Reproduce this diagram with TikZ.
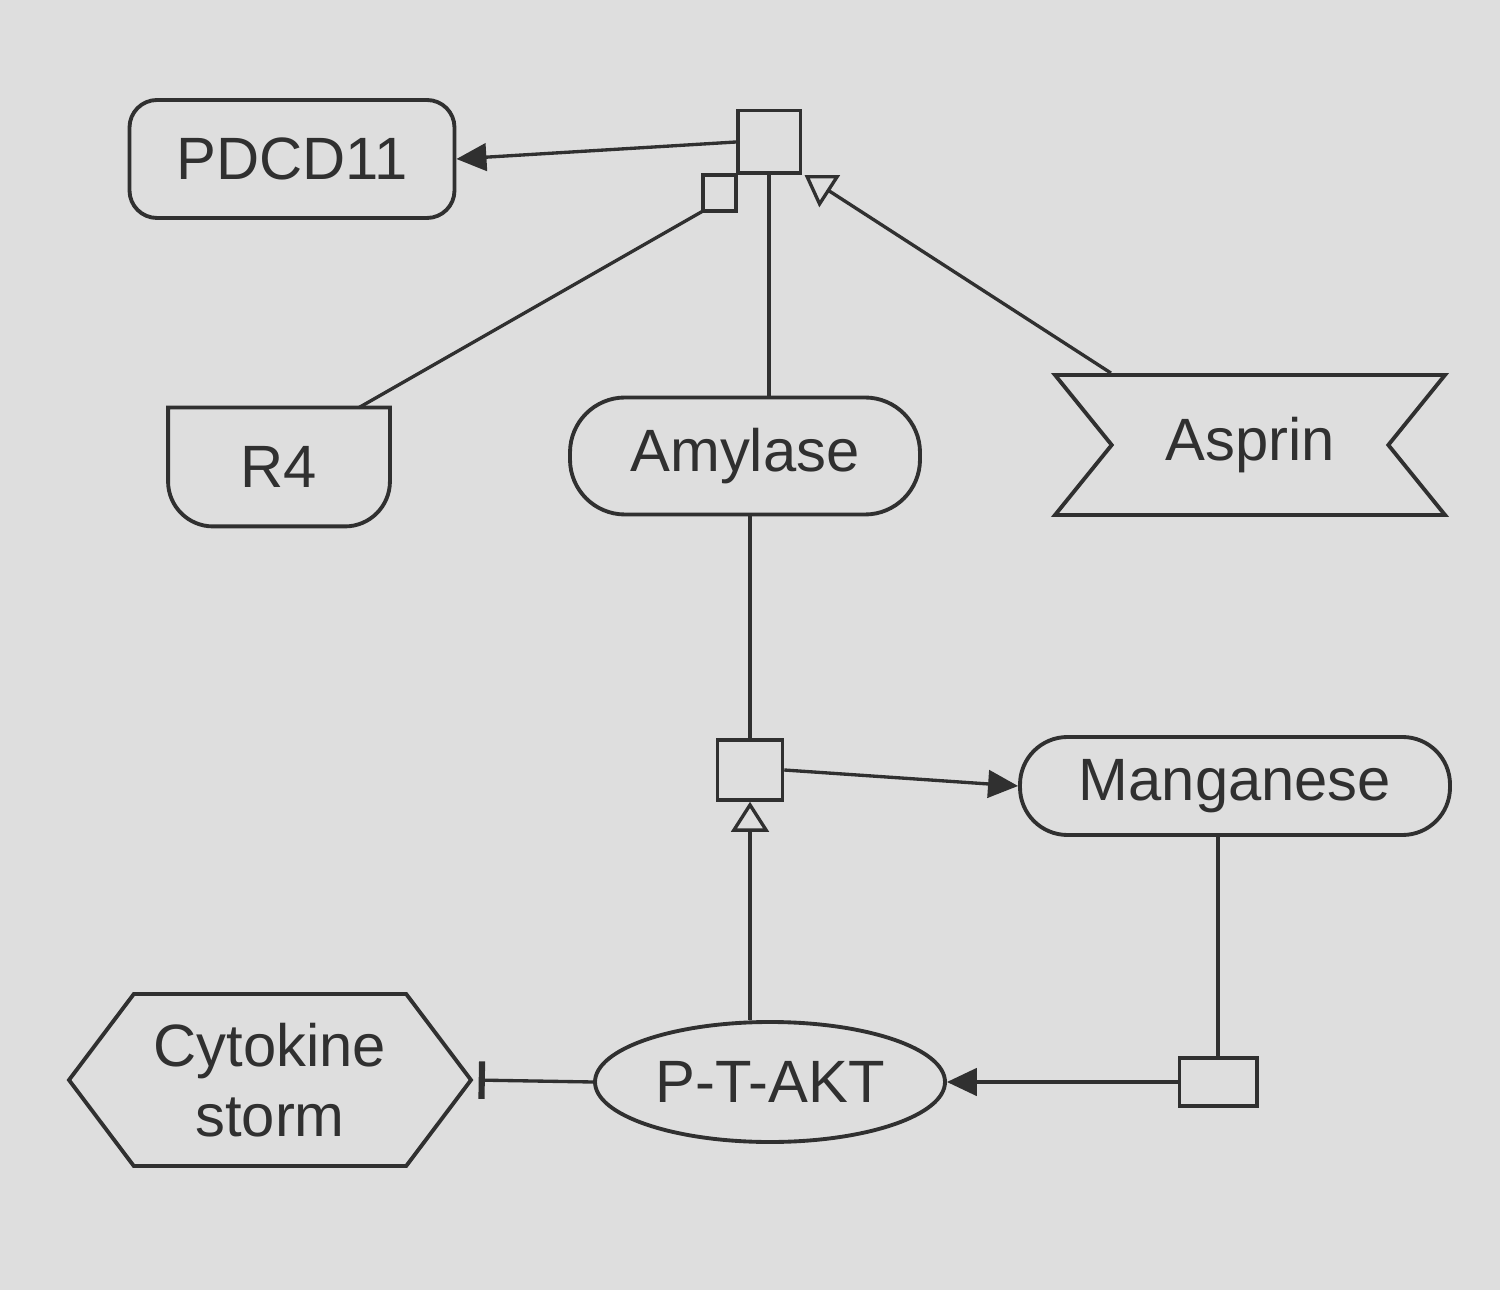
\documentclass[tikz,border=0pt]{standalone}
\usepackage{fontspec}
\setmainfont{Liberation Sans}
\usetikzlibrary{shapes,shapes.symbols,calc,arrows.meta,positioning}
\definecolor{paper}{RGB}{222,222,222}
\definecolor{pencil}{RGB}{48,48,48}

\tikzset{
  entity/.style={draw=pencil, line width=2.2pt, text=pencil, font=\fontsize{34}{40}\selectfont, align=center, inner sep=2pt},
  macro/.style={entity, rectangle, rounded corners=0.55cm},
  chem/.style={entity, rectangle, rounded corners=1.1cm},
  pheno/.style={entity, signal, signal to=west and east, signal pointer angle=106},
  drug/.style={entity, signal, signal to=nowhere, signal from=west and east, signal pointer angle=102},
  procbox/.style={draw=pencil, line width=2pt, rectangle, inner sep=0pt},
  link/.style={draw=pencil, line width=1.9pt},
  produce/.style={link, -{Triangle[length=0.6cm,width=0.55cm]}},
  stim/.style={link, -{Triangle[open,length=0.6cm,width=0.75cm,line width=1.9pt]}},
  inhib/.style={link, -{Bar[width=0.75cm,line width=3.5pt]}, shorten >=3pt}
}

\begin{document}
\begin{tikzpicture}
\useasboundingbox[fill=paper] (0,0) rectangle (30,25.8);

% entities (1 px of the sketch = 0.02 cm)
\node[macro, minimum width=6.5cm, minimum height=2.36cm] (pdcd) at (5.84,22.62) {PDCD11};
\node[entity, draw=none, minimum width=4.36cm, minimum height=2.3cm] (r4) at (5.58,16.46) {R4};
\draw[draw=pencil, line width=2.2pt] (r4.north west) -- (r4.north east)
  -- ($(r4.south east)+(0,0.9)$) arc[start angle=0, end angle=-90, radius=0.9cm]
  -- ($(r4.south west)+(0.9,0)$) arc[start angle=270, end angle=180, radius=0.9cm]
  -- cycle;
\node[chem, minimum width=7.0cm, minimum height=2.34cm] (amylase) at (14.9,16.68) {Amylase};
\node[drug, minimum width=7.8cm, minimum height=2.8cm] (asprin) at (25.0,16.9) {Asprin};
\node[chem, rounded corners=0.95cm, minimum width=8.6cm, minimum height=1.96cm] (mangan) at (24.7,10.08) {Manganese};
\node[entity, ellipse, minimum width=7.0cm, minimum height=2.4cm] (ptakt) at (15.4,4.16) {P-T-AKT};
\node[pheno, minimum width=8.04cm, minimum height=3.44cm] (storm) at (5.4,4.2) {Cytokine\\storm};

% process nodes
\node[procbox, minimum width=1.25cm, minimum height=1.25cm] (p1) at (15.38,22.96) {};
\node[procbox, minimum width=1.3cm, minimum height=1.2cm] (p2) at (15.0,10.4) {};
\node[procbox, minimum width=1.55cm, minimum height=0.95cm] (p3) at (24.36,4.16) {};

% top process
\draw[produce] (p1.west) -- (pdcd.east);
\draw[link] (p1.south) -- (p1.south |- amylase.north);
% square glyph of the R4 arc, under the box's left corner
\coordinate (sqtip) at ($(p1.south west)+(-0.66,-0.72)$);
\draw[link] (sqtip) rectangle (p1.south west);
\draw[link] ([xshift=1.6cm]r4.north) -- (sqtip);
\draw[stim] ([xshift=1.2cm]asprin.north west) -- ([xshift=0.05cm]p1.south east);

% middle process
\draw[link] (amylase.south -| p2.north) -- (p2.north);
\draw[produce] (p2.east) -- (mangan.west);
\draw[stim] (ptakt.north -| p2.south) -- (p2.south);

% bottom process
\draw[link] (mangan.south -| p3.north) -- (p3.north);
\draw[produce] (p3.west) -- (ptakt.east);
\draw[inhib] (ptakt.west) -- (storm.east);
\end{tikzpicture}
\end{document}
